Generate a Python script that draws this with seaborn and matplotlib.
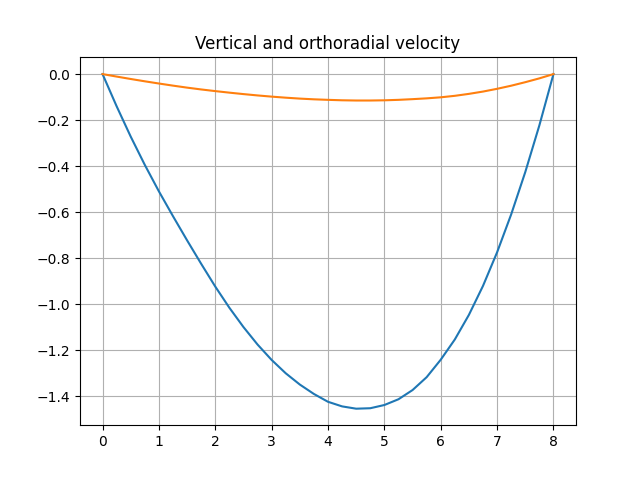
import matplotlib
matplotlib.use('Agg')
import matplotlib.pyplot as plt
import seaborn as sns
import pandas as pd

# valeurs (pas de 0.25)
x_vals = [0, 0.25, 0.5, 0.75, 1, 1.25, 1.5, 1.75, 2, 2.25, 2.5, 2.75, 3, 3.25, 3.5, 3.75,
          4, 4.25, 4.5, 4.75, 5, 5.25, 5.5, 5.75, 6, 6.25, 6.5, 6.75, 7, 7.25, 7.5, 7.75, 8]
v_vertical = [0, -0.140, -0.272, -0.395, -0.510, -0.618, -0.723, -0.825, -0.924, -1.016,
              -1.100, -1.176, -1.243, -1.301, -1.350, -1.391, -1.425, -1.445, -1.455, -1.453,
              -1.439, -1.414, -1.374, -1.318, -1.242, -1.154, -1.047, -0.921, -0.775, -0.610,
              -0.426, -0.223, 0]
v_ortho = [0, -0.0108, -0.0213, -0.0314, -0.0410, -0.0502, -0.0589, -0.0668, -0.0740, -0.0807,
           -0.0870, -0.0928, -0.0980, -0.1026, -0.1066, -0.1097, -0.1120, -0.1139, -0.1149, -0.1149,
           -0.1140, -0.1120, -0.1090, -0.1055, -0.1010, -0.0945, -0.0860, -0.0760, -0.0640, -0.0505,
           -0.0352, -0.0186, 0]

df = pd.DataFrame({'x': x_vals, 'vz': v_vertical, 'vt': v_ortho})

fig, ax = plt.subplots(figsize=(6.4, 4.78), dpi=100)

# vitesse verticale et orthoradiale
sns.lineplot(data=df, x='x', y='vz', color='C0', ax=ax)
sns.lineplot(data=df, x='x', y='vt', color='C1', ax=ax)

ax.grid(True)
ax.set_title('Vertical and orthoradial velocity')
ax.set_xlabel('')
ax.set_ylabel('')

plt.savefig('out.png', dpi=100)
